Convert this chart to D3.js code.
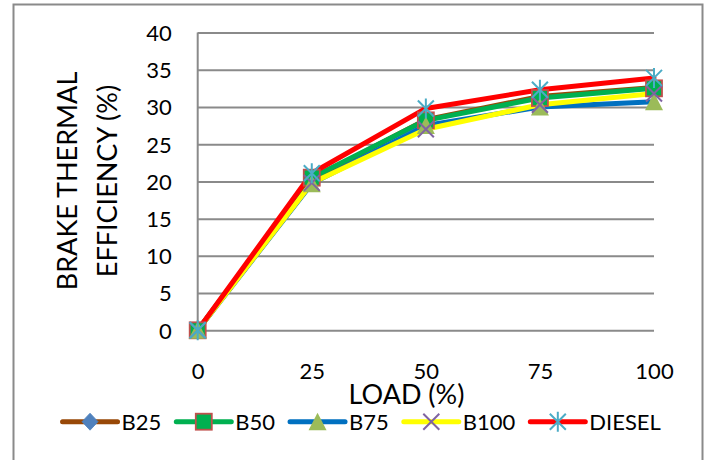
<!DOCTYPE html>
<html>
<head>
<meta charset="utf-8">
<script src="https://cdn.jsdelivr.net/npm/d3@7"></script>
<style>
  html, body { margin: 0; padding: 0; background: #fff; }
  svg { display: block; font-family: Lato, "Liberation Sans", sans-serif; }
</style>
</head>
<body>
<svg id="chart" width="706" height="460"></svg>
<script>
// Load levels (%) on the category axis
const loads = ["0", "25", "50", "75", "100"];
// Brake thermal efficiency (%) per fuel blend
const b25    = [0, 20.3, 28.3, 31.4, 32.6];
const b50    = [0, 20.5, 28.2, 31.2, 32.5];
const b75    = [0, 19.7, 27.5, 30.0, 30.7];
const b100   = [0, 19.8, 27.0, 30.3, 31.8];
const diesel = [0, 21.1, 29.8, 32.3, 33.9];
const seriesNames = ["B25", "B50", "B75", "B100", "DIESEL"];
const yTicks = [0, 5, 10, 15, 20, 25, 30, 35, 40];

const series = [
  { name: seriesNames[0], values: b25,    line: "#984807", marker: "diamond" },
  { name: seriesNames[1], values: b50,    line: "#00b050", marker: "square" },
  { name: seriesNames[2], values: b75,    line: "#0070c0", marker: "triangle" },
  { name: seriesNames[3], values: b100,   line: "#ffff00", marker: "cross" },
  { name: seriesNames[4], values: diesel, line: "#ff0000", marker: "star" }
];

const svg = d3.select("#chart");
const plot = { left: 197.7, right: 654, top: 32.5, bottom: 330.3 };
const x = d3.scalePoint().domain(loads).range([plot.left, plot.right]);
const y = d3.scaleLinear().domain([0, 40]).range([plot.bottom, plot.top]);
const gridColor = "#8a8a8a";

// chart area border
svg.append("rect")
  .attr("x", 13.5).attr("y", 4.5).attr("width", 689).attr("height", 480)
  .attr("fill", "#fff").attr("stroke", gridColor).attr("stroke-width", 2);

// horizontal gridlines
const grid = svg.append("g").attr("transform", `translate(${plot.left},0)`)
  .call(d3.axisLeft(y).tickValues(yTicks).tickSize(-(plot.right - plot.left)).tickFormat(""));
grid.select(".domain").remove();
grid.selectAll("line").attr("stroke", gridColor).attr("stroke-width", 2);

// vertical value axis line
svg.append("line")
  .attr("x1", plot.left).attr("x2", plot.left)
  .attr("y1", plot.top).attr("y2", plot.bottom)
  .attr("stroke", gridColor).attr("stroke-width", 2);

// y tick labels
const yAxis = svg.append("g").attr("transform", `translate(${plot.left},0)`)
  .call(d3.axisLeft(y).tickValues(yTicks).tickSize(0).tickPadding(26));
yAxis.select(".domain").remove();
yAxis.selectAll("text")
  .attr("font-family", "Lato, sans-serif").attr("font-size", 22).attr("fill", "#000")
  .attr("dy", "0.36em");

// x tick labels
const xAxis = svg.append("g").attr("transform", `translate(0,${plot.bottom})`)
  .call(d3.axisBottom(x).tickSize(0));
xAxis.select(".domain").remove();
xAxis.selectAll("text")
  .attr("font-family", "Lato, sans-serif").attr("font-size", 22).attr("fill", "#000")
  .attr("y", 48.7).attr("dy", 0);

// axis titles
svg.append("text")
  .attr("x", 406.5).attr("y", 404)
  .attr("text-anchor", "middle").attr("font-size", 27).attr("fill", "#000")
  .text("LOAD (%)");

const yTitle = svg.append("text")
  .attr("transform", "translate(0,181) rotate(-90)")
  .attr("text-anchor", "middle").attr("font-size", 27).attr("fill", "#000");
yTitle.append("tspan").attr("x", 0).attr("y", 77).text("BRAKE THERMAL");
yTitle.append("tspan").attr("x", 0).attr("y", 117).text("EFFICIENCY (%)");

// marker drawing
function drawMarker(g, type, cx, cy) {
  const m = g.append("g").attr("transform", `translate(${cx},${cy})`);
  if (type === "diamond") {
    m.append("path").attr("d", "M0,-8.5L8,0L0,8.5L-8,0Z")
      .attr("fill", "#4f81bd").attr("stroke", "#4f81bd").attr("stroke-width", 0.8);
  } else if (type === "square") {
    m.append("rect").attr("x", -8).attr("y", -8).attr("width", 16).attr("height", 16)
      .attr("fill", "#00b050").attr("stroke", "#c0504d").attr("stroke-width", 1.8);
  } else if (type === "triangle") {
    m.append("path").attr("d", "M0,-9L9,8.5L-9,8.5Z").attr("fill", "#9bbb59");
  } else if (type === "cross") {
    m.append("path").attr("d", "M-8,-8L8,8M-8,8L8,-8")
      .attr("stroke", "#8064a2").attr("stroke-width", 2).attr("fill", "none");
  } else if (type === "star") {
    m.append("path").attr("d", "M-8,-8L8,8M-8,8L8,-8M0,-10L0,10")
      .attr("stroke", "#4bacc6").attr("stroke-width", 2).attr("fill", "none");
  }
}

const line = d3.line().x((d, i) => x(loads[i])).y(d => y(d));

// lines first, then markers on top
const linesG = svg.append("g");
series.forEach(s => {
  linesG.append("path").datum(s.values)
    .attr("d", line).attr("fill", "none")
    .attr("stroke", s.line).attr("stroke-width", 5)
    .attr("stroke-linejoin", "round").attr("stroke-linecap", "round");
});
const markersG = svg.append("g");
series.forEach(s => {
  s.values.forEach((v, i) => drawMarker(markersG, s.marker, x(loads[i]), y(v)));
});

// legend
const legendY = 421.7;
const legend = svg.append("g");
const items = [];
series.forEach(s => {
  const g = legend.append("g");
  g.append("line").attr("x1", 0).attr("x2", 55).attr("y1", legendY).attr("y2", legendY)
    .attr("stroke", s.line).attr("stroke-width", 5).attr("stroke-linecap", "round");
  drawMarker(g, s.marker, 27.5, legendY);
  const t = g.append("text").attr("x", 59).attr("y", legendY).attr("dy", "0.36em")
    .attr("font-size", 22).attr("fill", "#000").text(s.name);
  items.push({ g, w: 59 + t.node().getComputedTextLength() });
});
const gap = 15;
const total = d3.sum(items, d => d.w) + gap * (items.length - 1);
let cursor = 361.7 - total / 2;
items.forEach(it => {
  it.g.attr("transform", `translate(${cursor},0)`);
  cursor += it.w + gap;
});
</script>
</body>
</html>
